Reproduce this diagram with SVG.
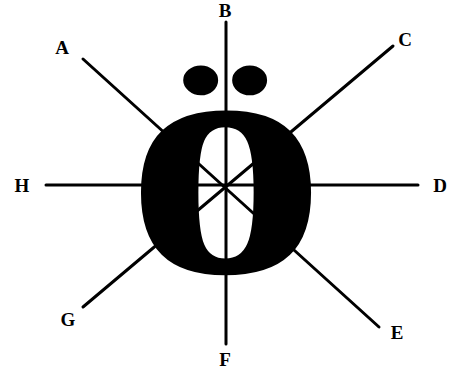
<svg xmlns="http://www.w3.org/2000/svg" width="451" height="376" viewBox="0 0 451 376">
<style>
.ln{stroke:#000;stroke-width:3;stroke-linecap:round;fill:none}
.lb{font-family:"Liberation Serif","Times New Roman",serif;font-weight:bold;font-size:19px;fill:#000;text-anchor:middle}
.glyph{font-family:"Liberation Serif","Times New Roman",serif;font-weight:bold;font-size:343px;fill:#000}
</style>
<rect width="451" height="376" fill="#fff"/>
<g id="letter">
<text class="glyph" transform="translate(226,272) scale(1.17,1)" x="-85.75" y="0">o<tspan font-size="255" dx="-86.5" dy="-36">&#x308;</tspan></text>
</g>
<g id="connectors">
<line class="ln" x1="226" y1="22" x2="226" y2="344"/>
<line class="ln" x1="46" y1="185" x2="418" y2="185"/>
<line class="ln" x1="83" y1="59" x2="379" y2="327"/>
<line class="ln" x1="393" y1="46" x2="83" y2="307"/>
</g>
<g id="A"><text class="lb" x="62" y="54">A</text></g>
<g id="B"><text class="lb" x="225" y="17">B</text></g>
<g id="C"><text class="lb" x="405" y="46">C</text></g>
<g id="D"><text class="lb" x="440" y="192">D</text></g>
<g id="E"><text class="lb" x="397" y="339">E</text></g>
<g id="F"><text class="lb" x="225" y="366">F</text></g>
<g id="G"><text class="lb" x="68" y="326">G</text></g>
<g id="H"><text class="lb" x="22" y="192">H</text></g>
</svg>
